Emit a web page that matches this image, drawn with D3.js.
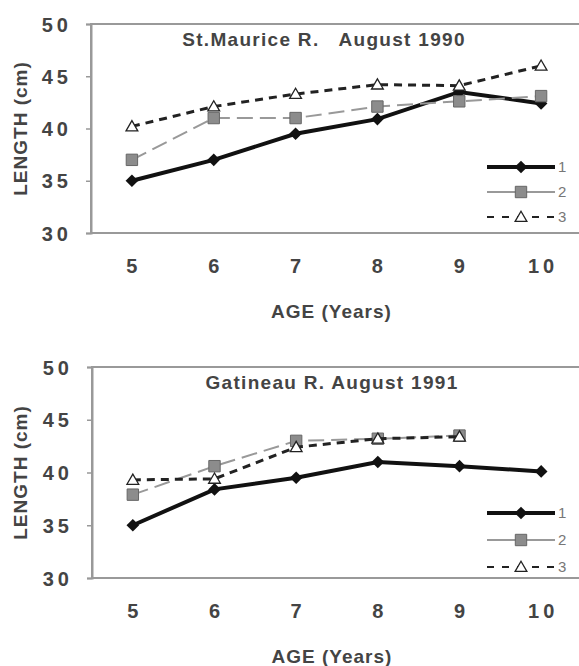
<!DOCTYPE html>
<html lang="en">
<head>
    <meta charset="UTF-8">
    <title>Length at age</title>
    <script src="https://d3js.org/d3.v7.min.js"></script>
    <style>
        body { margin: 0; background: #fff; }
        svg text { font-family: "Liberation Sans", Arial, sans-serif; fill: #444; }
        .tick-label { font-size: 20px; font-weight: bold; letter-spacing: 4px; }
        .axis-title { font-size: 19px; font-weight: bold; letter-spacing: 1px; }
        .chart-title { font-size: 19px; font-weight: bold; letter-spacing: 1.3px; white-space: pre; }
        .legend-label { font-size: 15px; fill: #777; }
    </style>
</head>
<body>
    <svg id="viz" width="579" height="666"></svg>

    <script>
        // Data
        const ages = [5, 6, 7, 8, 9, 10];
        const yTicks = [30, 35, 40, 45, 50];
        const seriesNames = ["1", "2", "3"];

        const stMaurice1 = [35.0, 37.0, 39.5, 40.9, 43.5, 42.4];
        const stMaurice2 = [37.0, 41.0, 41.0, 42.1, 42.6, 43.1];
        const stMaurice3 = [40.2, 42.1, 43.3, 44.2, 44.1, 46.0];

        const gatineau1 = [35.0, 38.4, 39.5, 41.0, 40.6, 40.1];
        const gatineau2 = [37.9, 40.6, 43.0, 43.2, 43.5, null];
        const gatineau3 = [39.3, 39.4, 42.4, 43.2, 43.4, null];

        const width = 579;
        const svg = d3.select("#viz");

        // line / marker styles per series
        const styles = [
            { stroke: "#111", width: 4, dash: null, marker: "diamond" },
            { stroke: "#999", width: 2, dash: "16,7", marker: "square" },
            { stroke: "#222", width: 3, dash: "8,6", marker: "triangle" }
        ];

        function drawMarker(g, type, x, y) {
            if (type === "diamond") {
                g.append("path")
                    .attr("d", d3.symbol(d3.symbolSquare, 80)())
                    .attr("transform", `translate(${x},${y}) rotate(45)`)
                    .attr("fill", "#111");
            } else if (type === "square") {
                g.append("path")
                    .attr("d", d3.symbol(d3.symbolSquare, 130)())
                    .attr("transform", `translate(${x},${y})`)
                    .attr("fill", "#8c8c8c")
                    .attr("stroke", "#666")
                    .attr("stroke-width", 1);
            } else {
                g.append("path")
                    .attr("d", d3.symbol(d3.symbolTriangle, 60)())
                    .attr("transform", `translate(${x},${y + 1})`)
                    .attr("fill", "#fff")
                    .attr("stroke", "#222")
                    .attr("stroke-width", 1.3);
            }
        }

        function drawPanel(opts) {
            const { top, bottom, left, title, series } = opts;
            const right = 582;
            const g = svg.append("g");

            const x = d3.scaleBand().domain(ages).range([left, right]);
            const y = d3.scaleLinear().domain([30, 50]).range([bottom, top]);

            // plot frame
            g.append("rect")
                .attr("x", left).attr("y", top)
                .attr("width", right - left).attr("height", bottom - top)
                .attr("fill", "#fff")
                .attr("stroke", "#999")
                .attr("stroke-width", 2);

            // y axis
            const yAxis = g.append("g")
                .attr("transform", `translate(${left},0)`)
                .call(d3.axisLeft(y).tickValues(yTicks).tickSize(5).tickPadding(14));
            yAxis.select(".domain").attr("stroke", "#999").attr("stroke-width", 2);
            yAxis.selectAll(".tick line").attr("stroke", "#999").attr("stroke-width", 1.5);
            yAxis.selectAll(".tick text")
                .attr("class", "tick-label")
                .attr("fill", "#444")
                .attr("dy", "0.36em");

            // x axis (labels only, as in the original)
            const xAxis = g.append("g")
                .attr("transform", `translate(0,${bottom})`)
                .call(d3.axisBottom(x).tickSize(0).tickPadding(26));
            xAxis.select(".domain").remove();
            xAxis.selectAll(".tick text")
                .attr("class", "tick-label")
                .attr("fill", "#444")
                .attr("dx", "2px");

            // titles
            g.append("text")
                .attr("class", "chart-title")
                .attr("x", opts.titleX)
                .attr("y", top + 22)
                .attr("text-anchor", "middle")
                .text(title);

            g.append("text")
                .attr("class", "axis-title")
                .attr("x", (left + right) / 2 - 5)
                .attr("y", bottom + 85)
                .attr("text-anchor", "middle")
                .text("AGE (Years)");

            g.append("text")
                .attr("class", "axis-title")
                .attr("transform", `translate(27,${(top + bottom) / 2}) rotate(-90)`)
                .attr("text-anchor", "middle")
                .text("LENGTH (cm)");

            // series lines + markers
            series.forEach((vals, i) => {
                const s = styles[i];
                const pts = ages.map((a, k) => ({ a, v: vals[k] }));
                const line = d3.line()
                    .defined(d => d.v != null)
                    .x(d => x(d.a) + x.bandwidth() / 2)
                    .y(d => y(d.v));
                g.append("path")
                    .datum(pts)
                    .attr("d", line)
                    .attr("fill", "none")
                    .attr("stroke", s.stroke)
                    .attr("stroke-width", s.width)
                    .attr("stroke-dasharray", s.dash);
                pts.filter(d => d.v != null).forEach(d => {
                    drawMarker(g, s.marker, x(d.a) + x.bandwidth() / 2, y(d.v));
                });
            });

            // legend
            const legendY = opts.legendOffsets;
            seriesNames.forEach((name, i) => {
                const s = styles[i];
                const ly = bottom - legendY[i];
                g.append("line")
                    .attr("x1", 487).attr("x2", 555)
                    .attr("y1", ly).attr("y2", ly)
                    .attr("stroke", s.stroke)
                    .attr("stroke-width", i === 0 ? 4 : 2)
                    .attr("stroke-dasharray", i === 2 ? "7,8" : null);
                drawMarker(g, s.marker, 521, ly);
                g.append("text")
                    .attr("class", "legend-label")
                    .attr("x", 558)
                    .attr("y", ly + 5)
                    .text(name);
            });
        }

        drawPanel({
            top: 24, bottom: 233, left: 91,
            title: "St.Maurice R.   August 1990",
            titleX: 324,
            series: [stMaurice1, stMaurice2, stMaurice3],
            legendOffsets: [66, 41, 16]
        });

        drawPanel({
            top: 367, bottom: 578, left: 92,
            title: "Gatineau R. August 1991",
            titleX: 332,
            series: [gatineau1, gatineau2, gatineau3],
            legendOffsets: [65, 38, 11]
        });
    </script>
</body>
</html>
